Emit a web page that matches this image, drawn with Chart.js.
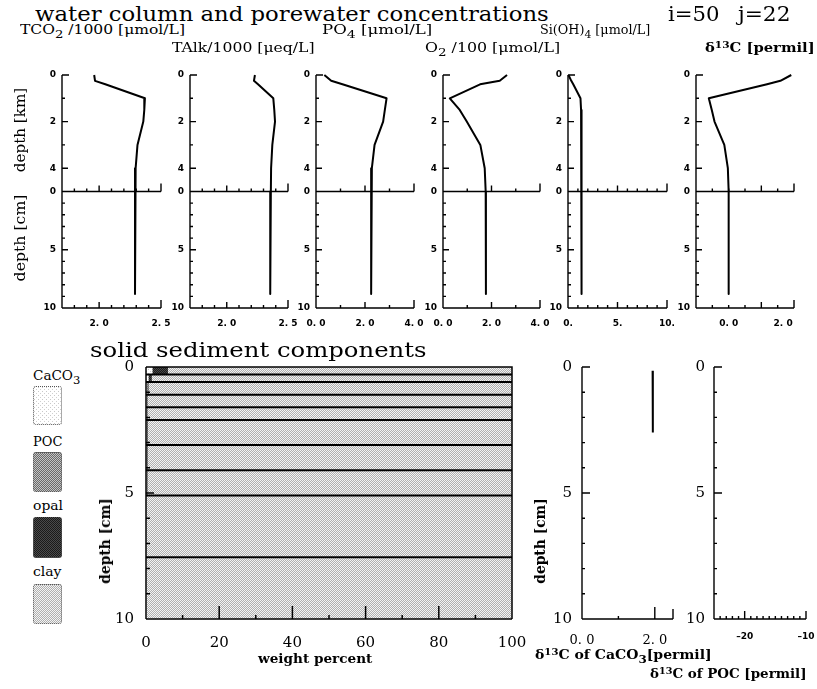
<!DOCTYPE html>
<html>
<head>
<meta charset="utf-8">
<script src="https://cdn.jsdelivr.net/npm/chart.js@4.4.1/dist/chart.umd.min.js"></script>
<style>
html,body{margin:0;padding:0;background:#fff;}
body{width:817px;height:689px;position:relative;overflow:hidden;}
canvas{position:absolute;}
.t{position:absolute;white-space:nowrap;line-height:1;font-family:"DejaVu Serif",serif;color:#000;transform-origin:0 0;}
.sub{position:relative;top:0.32em;font-size:0.85em;}
.sup{position:relative;top:-0.42em;font-size:0.72em;}
.sw{position:absolute;box-sizing:border-box;border:1px dotted #555;border-radius:3px;}
</style>
</head>
<body>
<script>
// ---------------- data ----------------
const waterDepthKm = [0, 0.25, 0.4, 1.0, 1.5, 2.0, 3.0, 4.0, 5.0];
const tco2Water = [1.96, 1.967, 2.05, 2.37, 2.365, 2.357, 2.31, 2.295, 2.29];
const talkWater = [2.23, 2.222, 2.255, 2.38, 2.388, 2.394, 2.372, 2.362, 2.36];
const po4Water  = [0.34, 0.62, 1.08, 2.88, 2.81, 2.74, 2.39, 2.28, 2.26];
const o2Water   = [2.64, 2.34, 1.53, 0.28, 0.69, 0.98, 1.54, 1.72, 1.76];
const siWater   = [0.05, 0.33, 0.53, 1.26, 1.32, 1.36, 1.37, 1.37, 1.37];
const d13cWater = [2.30, 1.90, 1.41, -0.73, -0.62, -0.52, -0.16, -0.03, 0.00];

const sedDepthCm = [0, 0.15, 0.45, 0.85, 1.35, 1.85, 2.6, 3.6, 4.6, 6.3, 8.8];
const tco2Sed = [2.29, 2.29, 2.29, 2.29, 2.29, 2.29, 2.29, 2.29, 2.29, 2.29, 2.29];
const talkSed = [2.355, 2.355, 2.355, 2.355, 2.355, 2.355, 2.355, 2.355, 2.355, 2.355, 2.355];
const po4Sed  = [2.25, 2.25, 2.25, 2.25, 2.25, 2.25, 2.25, 2.25, 2.25, 2.25, 2.25];
const o2Sed   = [1.77, 1.77, 1.77, 1.77, 1.77, 1.77, 1.77, 1.77, 1.77, 1.77, 1.77];
const siSed   = [1.37, 1.37, 1.37, 1.37, 1.37, 1.37, 1.37, 1.37, 1.37, 1.37, 1.37];
const d13cSed = [0.0, 0.0, 0.0, 0.0, 0.0, 0.0, 0.0, 0.0, 0.0, 0.0, 0.0];

// solid sediment layers
const layerTopCm = [0, 0.3, 0.6, 1.1, 1.6, 2.1, 3.1, 4.1, 5.1, 7.55];
const layerBotCm = [0.3, 0.6, 1.1, 1.6, 2.1, 3.1, 4.1, 5.1, 7.55, 10];
const caco3Pct = [1.6, 0.6, 0.3, 0.2, 0.2, 0.1, 0, 0, 0, 0];
const pocPct   = [0.2, 0.1, 0.1, 0.1, 0.1, 0.1, 0.1, 0.1, 0.1, 0.1];
const opalPct  = [4.2, 0.9, 0.3, 0.2, 0.2, 0.2, 0.2, 0.3, 0.1, 0.1];
const clayPct  = [94.0, 98.4, 99.3, 99.5, 99.5, 99.6, 99.7, 99.6, 99.8, 99.8];

const d13cCaco3DepthCm = [0.15, 0.45, 0.85, 1.35, 1.85, 2.6];
const d13cCaco3 = [1.94, 1.94, 1.94, 1.95, 1.95, 1.95];
const d13cPocDepthCm = [];
const d13cPoc = [];

// tick labels
const depthTickVals = [0, 4, 8, 10, 15, 20];
const depthTickLabels = ['0', '2', '4', '0', '5', '10'];
const sedDepthTickVals = [0, 5, 10];
const sedDepthTickLabels = ['0', '5', '10'];
const wtTickVals = [0, 20, 40, 60, 80, 100];
const wtTickLabels = ['0', '20', '40', '60', '80', '100'];

// ---------------- patterns ----------------
function makePattern(cells) {
  const n = cells.length;
  const c = document.createElement('canvas');
  c.width = n; c.height = n;
  const g = c.getContext('2d');
  for (let r = 0; r < n; r++) for (let q = 0; q < n; q++) {
    g.fillStyle = cells[r][q]; g.fillRect(q, r, 1, 1);
  }
  return {pat: g.createPattern(c, 'repeat'), url: c.toDataURL()};
}
const patClay = makePattern([['#b0b0b0', '#f4f4f4'], ['#f4f4f4', '#b0b0b0']]);
const patCaco3 = makePattern([['#c8c8c8', '#ffffff', '#ffffff', '#ffffff'], ['#ffffff', '#ffffff', '#ffffff', '#ffffff'], ['#ffffff', '#ffffff', '#d0d0d0', '#ffffff'], ['#ffffff', '#ffffff', '#ffffff', '#ffffff']]);
const patPoc = makePattern([['#6a6a6a', '#c4c4c4'], ['#c4c4c4', '#6a6a6a']]);
const patOpal = makePattern([['#1a1a1a', '#4a4a4a'], ['#4a4a4a', '#1a1a1a']]);

// ---------------- axes plugin ----------------
const axesPlugin = {
  id: 'axesDraw',
  afterDatasetsDraw(chart, args, o) {
    const {ctx, chartArea: a, scales: {x, y}} = chart;
    ctx.save();
    ctx.strokeStyle = '#000';
    ctx.lineWidth = o.lw || 1.4;
    ctx.beginPath();
    ctx.moveTo(a.left, a.top); ctx.lineTo(a.left, a.bottom);
    ctx.moveTo(a.left, a.bottom); ctx.lineTo(a.right, a.bottom);
    if (o.box) { ctx.moveTo(a.left, a.top); ctx.lineTo(a.right, a.top); ctx.lineTo(a.right, a.bottom); }
    (o.yTicks || []).forEach(([v, len]) => {
      const py = y.getPixelForValue(v);
      ctx.moveTo(a.left, py); ctx.lineTo(a.left + len, py);
    });
    (o.hLines || []).forEach(h => {
      const py = y.getPixelForValue(h.at);
      if (h.line) { ctx.moveTo(a.left, py); ctx.lineTo(a.right, py); }
      h.ticks.forEach(([v, len]) => {
        const px = x.getPixelForValue(v);
        ctx.moveTo(px, py); ctx.lineTo(px, py - len);
      });
    });
    ctx.stroke();
    ctx.restore();
  }
};

function findLabel(list, v) {
  const i = list[0].findIndex(t => Math.abs(t - v) < 1e-9);
  return i >= 0 ? list[1][i] : '';
}

function makeChart(s) {
  const c = document.createElement('canvas');
  const W = s.right - s.left + s.ml + s.mr;
  const H = s.bottom - s.top + s.mt + s.mb;
  c.width = W; c.height = H;
  c.style.left = (s.left - s.ml) + 'px';
  c.style.top = (s.top - s.mt) + 'px';
  c.style.width = W + 'px'; c.style.height = H + 'px';
  document.body.appendChild(c);
  return new Chart(c, {
    type: 'line',
    data: {datasets: s.datasets},
    plugins: [axesPlugin],
    options: {
      responsive: false, animation: false, events: [], devicePixelRatio: 1,
      layout: {padding: {left: 0, top: s.mt, right: s.mr, bottom: 0}},
      plugins: {legend: {display: false}, tooltip: {enabled: false}, axesDraw: s.axes},
      elements: {point: {radius: 0}, line: {tension: 0}},
      scales: {
        x: {
          type: 'linear', min: s.x.min, max: s.x.max,
          grid: {display: false, drawTicks: false}, border: {display: false},
          afterBuildTicks: sc => { sc.ticks = s.x.labels[0].map(v => ({value: v})); },
          afterFit: sc => { sc.height = s.mb; sc.paddingLeft = 0; sc.paddingRight = 0; sc.paddingTop = 0; sc.paddingBottom = 0; },
          ticks: {autoSkip: false, maxRotation: 0, minRotation: 0, padding: s.x.pad, font: s.x.font, color: '#000',
                  callback: v => findLabel(s.x.labels, v)}
        },
        y: {
          type: 'linear', min: s.y.min, max: s.y.max, reverse: true,
          grid: {display: false, drawTicks: false}, border: {display: false},
          afterBuildTicks: sc => { sc.ticks = s.y.labels[0].map(v => ({value: v})); },
          afterFit: sc => { sc.width = s.ml; sc.paddingLeft = 0; sc.paddingRight = 0; sc.paddingTop = 0; sc.paddingBottom = 0; },
          ticks: {autoSkip: false, padding: s.y.pad, font: s.y.font, color: '#000',
                  callback: v => findLabel(s.y.labels, v)}
        }
      }
    }
  });
}

// ---------------- top panels ----------------
const smallBold = {family: 'DejaVu Sans', size: 9, weight: 'bold'};
const panels = [
  {left: 62, right: 161, min: 1.7, max: 2.5, water: tco2Water, sed: tco2Sed, lab: [[2.0, 2.5], ['2. 0', '2. 5']], minor: [1.8, 1.9, 2.1, 2.2, 2.3, 2.4], major: [2.0]},
  {left: 190, right: 288, min: 1.7, max: 2.5, water: talkWater, sed: talkSed, lab: [[2.0, 2.5], ['2. 0', '2. 5']], minor: [1.8, 1.9, 2.1, 2.2, 2.3, 2.4], major: [2.0]},
  {left: 316, right: 414, min: 0, max: 4, water: po4Water, sed: po4Sed, lab: [[0, 2, 4], ['0. 0', '2. 0', '4. 0']], minor: [1, 3], major: [2]},
  {left: 443, right: 540, min: 0, max: 4, water: o2Water, sed: o2Sed, lab: [[0, 2, 4], ['0. 0', '2. 0', '4. 0']], minor: [1, 3], major: [2]},
  {left: 568, right: 667, min: 0, max: 10, water: siWater, sed: siSed, lab: [[0, 5, 10], ['0.', '5.', '10.']], minor: [1, 2, 3, 4, 6, 7, 8, 9], major: [5]},
  {left: 696, right: 794, min: -1.2, max: 2.4, water: d13cWater, sed: d13cSed, lab: [[0, 2], ['0. 0', '2. 0']], minor: [-0.6, 0, 0.6, 1.8], major: [1.2]}
];
const topYTicks = [[0, 7], [2, 3], [4, 6], [6, 3], [8, 6], [11, 3], [12, 3], [13, 3], [14, 3], [15, 6], [16, 3], [17, 3], [18, 3], [19, 3]];

panels.forEach(p => {
  const pts = waterDepthKm.map((d, i) => ({x: p.water[i], y: d * 2}))
    .concat(sedDepthCm.map((d, i) => ({x: p.sed[i], y: 10 + d})));
  const xt = p.minor.map(v => [v, 3]).concat(p.major.map(v => [v, 6])).concat([[p.max, 8]]);
  makeChart({
    left: p.left, right: p.right, top: 75, bottom: 308, ml: 36, mr: 14, mt: 6, mb: 26,
    x: {min: p.min, max: p.max, labels: p.lab, pad: 10, font: smallBold},
    y: {min: 0, max: 20, labels: [depthTickVals, depthTickLabels], pad: 6, font: smallBold},
    datasets: [{data: pts, borderColor: '#000', borderWidth: 2, fill: false, pointRadius: 0, borderJoinStyle: 'round', clip: 6}],
    axes: {lw: 1.4, yTicks: topYTicks, hLines: [{at: 10, line: true, ticks: xt}, {at: 20, line: false, ticks: xt}]}
  });
});

// ---------------- solid sediment components ----------------
function cum(arrs) {
  const out = [];
  let acc = layerTopCm.map(() => 0);
  out.push(acc.slice());
  arrs.forEach(a => { acc = acc.map((v, i) => v + a[i]); out.push(acc.slice()); });
  return out;
}
const bounds = cum([caco3Pct, pocPct, opalPct, clayPct]);
function stepPolygon(lefts, rights) {
  const pts = [];
  for (let i = 0; i < layerTopCm.length; i++) {
    pts.push({x: rights[i], y: layerTopCm[i]}, {x: rights[i], y: layerBotCm[i]});
  }
  for (let i = layerTopCm.length - 1; i >= 0; i--) {
    pts.push({x: lefts[i], y: layerBotCm[i]}, {x: lefts[i], y: layerTopCm[i]});
  }
  pts.push(pts[0]);
  return pts;
}
const compPats = [patCaco3.pat, patPoc.pat, patOpal.pat, patClay.pat];
const sedSets = compPats.map((pat, k) => ({
  data: stepPolygon(bounds[k], bounds[k + 1]), borderWidth: 0, borderColor: 'rgba(0,0,0,0)',
  backgroundColor: pat, fill: 'shape', pointRadius: 0, order: 5
}));
layerTopCm.slice(1).forEach(b => {
  sedSets.push({data: [{x: 0, y: b}, {x: 100, y: b}], borderColor: '#000', borderWidth: 2, fill: false, pointRadius: 0, order: 1});
});
const serif15 = {family: 'DejaVu Serif', size: 15};
const sedYTicks = [[1, 4], [2, 4], [3, 4], [4, 4], [5, 8], [6, 4], [7, 4], [8, 4], [9, 4]];
makeChart({
  left: 146, right: 512, top: 367, bottom: 619, ml: 46, mr: 16, mt: 10, mb: 36,
  x: {min: 0, max: 100, labels: [wtTickVals, wtTickLabels], pad: 15, font: serif15},
  y: {min: 0, max: 10, labels: [sedDepthTickVals, sedDepthTickLabels], pad: 12, font: serif15},
  datasets: sedSets,
  axes: {lw: 1.5, box: true, yTicks: sedYTicks,
         hLines: [{at: 10, line: false, ticks: [[10, 4], [30, 4], [50, 4], [70, 4], [90, 4], [20, 13], [40, 13], [60, 13], [80, 13]]}]}
});

// ---------------- d13C of CaCO3 ----------------
const smallYTicks = [[0, 8], [1, 3], [2, 3], [3, 3], [4, 3], [5, 8], [6, 3], [7, 3], [8, 3], [9, 3]];
makeChart({
  left: 582, right: 673, top: 367, bottom: 619, ml: 34, mr: 14, mt: 10, mb: 34,
  x: {min: 0, max: 2.5, labels: [[0, 2], ['0. 0', '2. 0']], pad: 14, font: {family: 'DejaVu Serif', size: 13}},
  y: {min: 0, max: 10, labels: [sedDepthTickVals, sedDepthTickLabels], pad: 10, font: serif15},
  datasets: [{data: d13cCaco3DepthCm.map((d, i) => ({x: d13cCaco3[i], y: d})), borderColor: '#000', borderWidth: 2, fill: false, pointRadius: 0}],
  axes: {lw: 1.4, yTicks: smallYTicks, hLines: [{at: 10, line: false, ticks: [[1, 3], [2, 12], [2.5, 10]]}]}
});

// ---------------- d13C of POC ----------------
const pocXT = [[-24, 3], [-23, 3], [-22, 3], [-21, 3], [-20, 8], [-19, 3], [-18, 3], [-17, 3], [-16, 3], [-15, 3], [-14, 3], [-13, 3], [-12, 3], [-11, 3], [-10, 8]];
makeChart({
  left: 714, right: 806, top: 367, bottom: 619, ml: 34, mr: 11, mt: 10, mb: 30,
  x: {min: -25, max: -10, labels: [[-20, -10], ['\u201320', '\u201310']], pad: 12, font: smallBold},
  y: {min: 0, max: 10, labels: [sedDepthTickVals, sedDepthTickLabels], pad: 9, font: serif15},
  datasets: [{data: d13cPocDepthCm.map((d, i) => ({x: d13cPoc[i], y: d})), borderColor: '#000', borderWidth: 2, fill: false, pointRadius: 0}],
  axes: {lw: 1.4, yTicks: smallYTicks, hLines: [{at: 10, line: false, ticks: pocXT}]}
});

// ---------------- legend swatches ----------------
[[patCaco3, 386, 39], [patPoc, 452, 40], [patOpal, 517, 41], [patClay, 584, 40]].forEach(([p, top, h]) => {
  const d = document.createElement('div');
  d.className = 'sw';
  d.style.left = '33px'; d.style.top = top + 'px'; d.style.width = '29px'; d.style.height = h + 'px';
  d.style.backgroundImage = 'url(' + p.url + ')';
  document.body.appendChild(d);
});

// ---------------- texts ----------------
const SUP13 = '<span class="sup">13</span>';
const texts = [
  {h: 'water column and porewater concentrations', x: 35, b: 21, s: 20, w: 514},
  {h: 'i=50', x: 668, b: 21, s: 20, w: 52},
  {h: 'j=22', x: 738, b: 21, s: 20, w: 52},
  {h: 'TCO<span class="sub">2</span> /1000 [\u03bcmol/L]', x: 20, b: 34, s: 13, w: 165},
  {h: 'PO<span class="sub">4</span> [\u03bcmol/L]', x: 322, b: 34, s: 13, w: 111},
  {h: 'Si(OH)<span class="sub">4</span> [\u03bcmol/L]', x: 540, b: 34, s: 13, w: 110},
  {h: 'TAlk/1000 [\u03bceq/L]', x: 172, b: 52, s: 13, w: 143},
  {h: 'O<span class="sub">2</span> /100 [\u03bcmol/L]', x: 425, b: 52, s: 13, w: 135},
  {h: '\u03b4' + SUP13 + 'C [permil]', x: 705, b: 52, s: 13, w: 110, bold: true},
  {h: 'solid sediment components', x: 90, b: 357, s: 20, w: 337},
  {h: 'weight percent', x: 258, b: 663, s: 13, w: 114, bold: true},
  {h: '\u03b4' + SUP13 + 'C of CaCO<span class="sub">3</span>[permil]', x: 535, b: 659, s: 13, w: 177, bold: true},
  {h: '\u03b4' + SUP13 + 'C of POC [permil]', x: 650, b: 678, s: 13, w: 156, bold: true},
  {h: 'CaCO<span class="sub">3</span>', x: 33, b: 380, s: 13, w: 47},
  {h: 'POC', x: 33, b: 446, s: 13, w: 29},
  {h: 'opal', x: 33, b: 510, s: 13, w: 30},
  {h: 'clay', x: 33, b: 576, s: 13, w: 29},
  {h: 'depth [km]', rot: true, x: 20, y: 130, s: 15, w: 85},
  {h: 'depth [cm]', rot: true, x: 20, y: 238, s: 15, w: 87},
  {h: 'depth [cm]', rot: true, x: 105, y: 541, s: 14, w: 86, bold: true},
  {h: 'depth [cm]', rot: true, x: 540, y: 541, s: 14, w: 86, bold: true}
];
texts.forEach(t => {
  const d = document.createElement('div');
  d.className = 't';
  d.innerHTML = t.h;
  d.style.fontSize = t.s + 'px';
  if (t.bold) d.style.fontWeight = 'bold';
  document.body.appendChild(d);
  const w0 = d.offsetWidth;
  const k = t.w ? t.w / w0 : 1;
  if (t.rot) {
    d.style.left = t.x + 'px'; d.style.top = t.y + 'px';
    d.style.transformOrigin = '50% 50%';
    d.style.transform = 'translate(-50%,-50%) rotate(-90deg) scaleX(' + k + ')';
  } else {
    d.style.left = t.x + 'px';
    d.style.top = (t.b - 0.846 * t.s) + 'px';
    d.style.transform = 'scaleX(' + k + ')';
  }
});
</script>
</body>
</html>
